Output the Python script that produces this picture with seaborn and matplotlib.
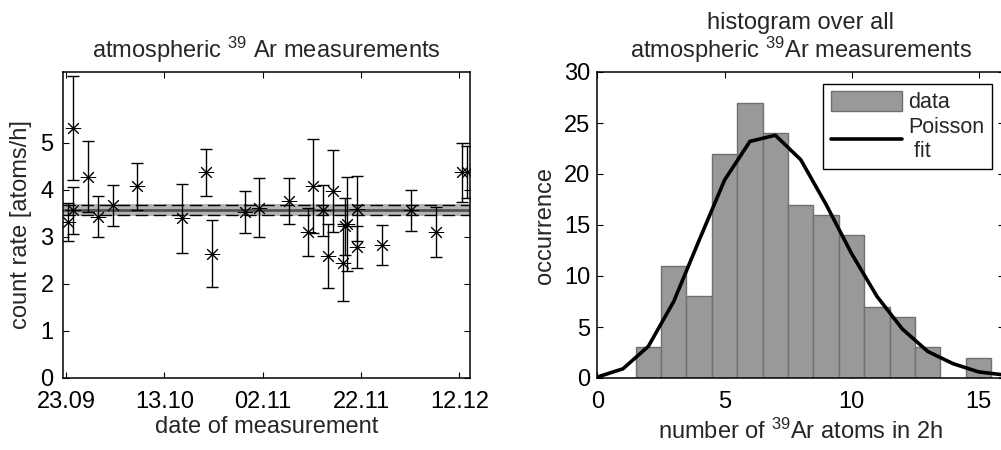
import matplotlib
matplotlib.use('Agg')
import matplotlib.pyplot as plt
import seaborn as sns
import pandas as pd
from matplotlib.patches import Patch
from matplotlib.lines import Line2D

# left panel: single 39Ar runs, x = days after 23.09
days = [0.5, 1.5, 1.5, 4.5, 6.6, 9.5, 14.5, 23.5, 28.4, 29.6, 36.3, 39.3, 45.4, 49.3,
        50.3, 52.2, 53.2, 54.3, 56.3, 56.8, 57.1, 59.1, 59.1, 64.2, 70.1, 75.2, 80.5, 81.5]
rate = [3.31, 5.31, 3.56, 4.28, 3.43, 3.67, 4.07, 3.39, 4.37, 2.64, 3.53, 3.62, 3.76, 3.11,
        4.07, 3.56, 2.60, 3.98, 2.45, 3.22, 3.27, 3.60, 2.78, 2.83, 3.56, 3.10, 4.37, 4.37]
rate_err = [0.40, 1.10, 0.50, 0.75, 0.43, 0.44, 0.50, 0.73, 0.50, 0.71, 0.45, 0.62, 0.49, 0.51,
            1.00, 0.55, 0.68, 0.87, 0.82, 0.60, 1.00, 0.70, 0.45, 0.42, 0.43, 0.53, 0.63, 0.55]
mean_rate = 3.57
band_lo, band_hi = 3.45, 3.69     # grey band
dash_lo, dash_hi = 3.46, 3.67     # dashed lines
date_ticks = [0, 20, 40, 60, 80]
date_labels = ['23.09', '13.10', '02.11', '22.11', '12.12']

# right panel: histogram of atoms per 2h + Poisson fit
n_atoms = [2, 3, 4, 5, 6, 7, 8, 9, 10, 11, 12, 13, 15]
counts = [3, 11, 8, 22, 27, 24, 17, 16, 14, 7, 6, 3, 2]
fit_x = [0, 1, 2, 3, 4, 5, 6, 7, 8, 9, 10, 11, 12, 13, 14, 15, 16]
fit_y = [0.1, 0.9, 3.1, 7.5, 13.5, 19.4, 23.2, 23.8, 21.4, 17.0, 12.2, 8.0, 4.8, 2.6, 1.4, 0.6, 0.3]

sns.set_style('ticks')
plt.rcParams['font.family'] = ['Liberation Sans', 'DejaVu Sans']
plt.rcParams['mathtext.fontset'] = 'custom'
plt.rcParams['mathtext.rm'] = 'Liberation Sans'
plt.rcParams['mathtext.default'] = 'regular'
plt.rcParams['axes.linewidth'] = 1.1
plt.rcParams['axes.edgecolor'] = 'black'
plt.rcParams['xtick.direction'] = 'in'
plt.rcParams['ytick.direction'] = 'in'
plt.rcParams['xtick.top'] = True
plt.rcParams['ytick.right'] = True
plt.rcParams['xtick.major.size'] = 4
plt.rcParams['ytick.major.size'] = 4
plt.rcParams['xtick.color'] = 'black'
plt.rcParams['ytick.color'] = 'black'

fs = 17
fig = plt.figure(figsize=(10.01, 4.5), dpi=100)

# ---- left: measurements over time
ax1 = fig.add_axes([0.0632, 0.16, 0.4066, 0.68])
df = pd.DataFrame({'day': days, 'rate': rate, 'err': rate_err})

ax1.axhspan(band_lo, band_hi, color='#b4b4b4', lw=0, zorder=1)
ax1.axhline(mean_rate, color='#505050', lw=2, zorder=2)
for y in (dash_lo, dash_hi):
    ax1.axhline(y, color='black', lw=1, ls=(0, (9, 4)), zorder=2)
ax1.errorbar(df['day'], df['rate'], yerr=df['err'], fmt='none', ecolor='black',
             elinewidth=1, capsize=4, capthick=1, zorder=3)
sns.scatterplot(data=df, x='day', y='rate', marker=(8, 2, 0), s=110, color='black',
                linewidth=0.7, ax=ax1, zorder=4)

ax1.set_xlim(-0.55, 82.2)
ax1.set_ylim(0, 6.5)
ax1.set_yticks([0, 1, 2, 3, 4, 5])
ax1.set_xticks(date_ticks)
ax1.set_xticklabels(date_labels)
ax1.tick_params(labelsize=fs)
ax1.tick_params(axis='x', pad=9.5)
ax1.tick_params(axis='y', pad=7)
ax1.set_xlabel('date of measurement', fontsize=fs, labelpad=2)
ax1.set_ylabel('count rate [atoms/h]', fontsize=fs, labelpad=6)
ax1.set_title('atmospheric $^{39}$ Ar measurements', fontsize=fs, pad=10)

# ---- right: histogram
ax2 = fig.add_axes([0.5969, 0.16, 0.4061, 0.68])
sns.barplot(x=n_atoms, y=counts, native_scale=True, width=1, color='#999999',
            saturation=1, edgecolor='#707070', linewidth=1, ax=ax2, zorder=2)
sns.lineplot(x=fit_x, y=fit_y, color='black', lw=2.6, ax=ax2, zorder=3)

ax2.set_xlim(0, 16)
ax2.set_ylim(0, 30)
ax2.set_xticks([0, 5, 10, 15])
ax2.set_yticks([0, 5, 10, 15, 20, 25, 30])
ax2.tick_params(labelsize=fs)
ax2.tick_params(axis='x', pad=9.5)
ax2.tick_params(axis='y', pad=5)
ax2.set_xlabel('number of $^{39}$Ar atoms in 2h', fontsize=fs, labelpad=4)
ax2.set_ylabel('occurrence', fontsize=fs, labelpad=6)
ax2.set_title('histogram over all\natmospheric $^{39}$Ar measurements', fontsize=fs, pad=10,
              linespacing=1.05)

handles = [Patch(facecolor='#999999', edgecolor='#707070'),
           Line2D([], [], color='black', lw=2.6)]
leg = ax2.legend(handles, ['data', 'Poisson\n fit'], loc='upper right',
                 bbox_to_anchor=(0.970, 0.961), borderaxespad=0, fontsize=15.5,
                 fancybox=False, framealpha=1, edgecolor='black', handlelength=3.3,
                 handleheight=1.0, handletextpad=0.3, labelspacing=0.15, borderpad=0.35)
leg.get_frame().set_linewidth(1)

fig.savefig('out.png', dpi=100)
